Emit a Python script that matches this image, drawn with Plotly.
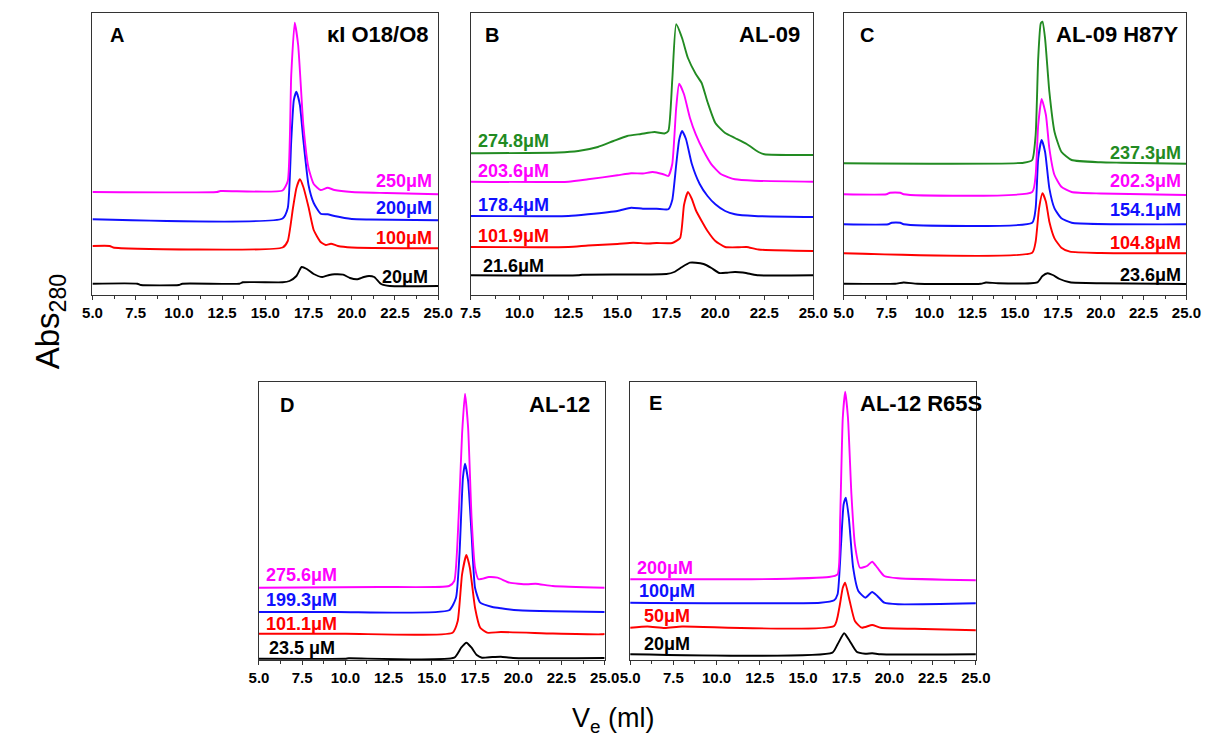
import plotly.graph_objects as go

W, H = 1216, 738

# ---------------- Panel A : kI O18/O8 ----------------
A_20_x = [5, 7.6, 7.8, 10, 10.2, 13.5, 13.7, 16.0, 16.4, 16.8, 17.1, 17.4, 17.8, 18.3, 18.7, 19.0, 19.5, 19.9, 20.3, 20.7, 21.0, 21.3, 21.7, 22.2, 25]
A_20_y = [11.3, 11.3, 10, 10, 11.3, 11.3, 12.7, 12.7, 14, 19, 28, 26, 21, 18, 20, 20.7, 20.3, 17, 15.7, 18, 19, 18, 11, 9, 9]
A_100_x = [5, 6.0, 6.2, 16.0, 16.3, 16.6, 16.8, 17.0, 17.2, 17.5, 17.8, 18.2, 18.5, 18.8, 19.2, 20, 25]
A_100_y = [49, 49, 47.5, 47.5, 54, 87, 107, 115.7, 108, 88, 65, 53, 50, 51.3, 49, 47.5, 46.7]
A_200_x = [5, 16.0, 16.3, 16.5, 16.65, 16.8, 17.0, 17.2, 17.5, 17.8, 18.2, 18.6, 19.0, 20, 21, 25]
A_200_y = [75.7, 76.5, 87, 154, 195, 203.3, 190, 155, 110, 92, 81.3, 80.7, 79, 76, 75.5, 74.7]
A_250_x = [5, 12.2, 12.4, 16.0, 16.3, 16.5, 16.7, 16.9, 17.2, 17.5, 17.8, 18.2, 18.6, 19.0, 20, 22, 25]
A_250_y = [103, 103, 104, 104.5, 114, 220, 272.3, 250, 170, 127, 111, 105, 107.3, 105, 103, 102, 100.7]

# ---------------- Panel B : AL-09 ----------------
B_216_x = [7.5, 13.0, 13.2, 17.5, 17.9, 18.3, 18.7, 19.0, 19.4, 19.8, 20.2, 20.6, 21.0, 21.4, 21.8, 22.2, 25]
B_216_y = [19.7, 19.7, 20.3, 21, 23, 28, 32.3, 32.3, 31, 27, 22, 22.3, 23, 22.5, 21, 19.7, 19.7]
B_1019_x = [7.5, 12.5, 13.5, 15.0, 15.8, 16.5, 17.0, 17.8, 18.2, 18.4, 18.6, 18.8, 19.0, 19.3, 19.6, 20.0, 20.5, 21.2, 21.6, 22.2, 25]
B_1019_y = [48, 48, 49.5, 51, 52.3, 51.5, 52, 52, 57, 90, 103, 96, 85, 74, 64, 54, 48, 47.7, 48, 45.5, 44]
B_1784_x = [7.5, 12.5, 13.5, 15.0, 15.7, 16.3, 17.0, 17.6, 17.8, 18.0, 18.15, 18.3, 18.5, 18.8, 19.2, 19.6, 20.0, 20.5, 21.0, 22.0, 25]
B_1784_y = [79, 79, 80.7, 84, 87.3, 86.3, 86.3, 85.7, 95, 130, 155, 164, 156, 131, 111, 99, 90.7, 84, 80.7, 79, 78]
B_2036_x = [7.5, 12.5, 13.5, 15.0, 15.7, 16.3, 16.8, 17.3, 17.6, 17.8, 18.0, 18.15, 18.4, 18.7, 19.0, 19.4, 19.8, 20.3, 21.0, 22.0, 25]
B_2036_y = [113.3, 113.3, 115.7, 119.7, 121.7, 121.5, 123, 121, 119, 131, 187, 211.3, 200.7, 177.3, 160.7, 144, 130.7, 120.7, 115.7, 114.3, 113.3]
B_2748_x = [7.5, 12.0, 13.0, 14.0, 14.8, 15.5, 16.2, 16.9, 17.4, 17.6, 17.8, 18.0, 18.3, 18.6, 19.0, 19.3, 19.6, 20.0, 20.5, 21.0, 21.6, 22.2, 22.5, 25]
B_2748_y = [141.7, 142.5, 144, 148, 154, 159, 161, 163, 161.5, 164, 215, 270.7, 257, 237, 221, 212, 193, 172, 162, 157, 151, 143, 140.7, 140]

# ---------------- Panel C : AL-09 H87Y ----------------
C_236_x = [5, 8.0, 8.5, 9.3, 13.0, 13.3, 14.0, 16.3, 16.6, 16.9, 17.2, 17.6, 18.2, 20.0, 25]
C_236_y = [11.3, 11.3, 12.5, 11.3, 11.3, 12.5, 11.7, 12.7, 19, 21.7, 20, 16, 12.7, 11.7, 11]
C_1048_x = [5, 16.0, 16.2, 16.4, 16.6, 16.8, 17.0, 17.3, 17.7, 18.2, 20, 25]
C_1048_y = [41.7, 42.3, 53.3, 86.7, 101.7, 93.3, 73.3, 56.7, 47.3, 43.3, 42, 41.7]
C_1541_x = [5, 7.6, 7.8, 8.3, 8.5, 16.0, 16.2, 16.35, 16.55, 16.75, 17.0, 17.3, 17.7, 18.3, 25]
C_1541_y = [70.7, 70.7, 72.3, 72.3, 70.7, 72.3, 86.7, 136.7, 155, 143.3, 106.7, 86.7, 76.7, 72.3, 70.7]
C_2023_x = [5, 7.5, 7.7, 8.3, 8.5, 16.0, 16.2, 16.35, 16.55, 16.8, 17.0, 17.3, 17.7, 18.3, 20, 25]
C_2023_y = [100.7, 100.7, 102.3, 102.3, 100.7, 103, 120, 170, 196, 180, 146.7, 120, 108.3, 103, 101.5, 100]
C_2373_x = [5, 15.5, 16.0, 16.2, 16.35, 16.5, 16.6, 16.75, 17.0, 17.3, 17.7, 18.3, 20, 21.2, 25]
C_2373_y = [131.7, 132.3, 135, 160, 236.7, 271.7, 273.3, 256.7, 203.3, 163.3, 143.3, 135, 132.7, 132.3, 131.3]

# ---------------- Panel D : AL-12 ----------------
D_235_x = [5, 10, 10.2, 16.3, 16.7, 17.0, 17.3, 17.6, 17.9, 18.5, 19.0, 19.7, 25]
D_235_y = [1.3, 1.3, 1.7, 2.3, 12.3, 17.3, 12.3, 5, 2.3, 3, 3.3, 2, 2]
D_1011_x = [5, 10, 16.2, 16.5, 16.75, 17.0, 17.2, 17.5, 17.8, 18.2, 19.0, 22, 24.8, 25]
D_1011_y = [26.3, 26.3, 27.3, 39, 85.7, 105, 92.3, 52.3, 32.3, 27.3, 28, 26.5, 25.7, 26]
D_1993_x = [5, 9.5, 16.0, 16.4, 16.6, 16.8, 16.92, 17.1, 17.3, 17.5, 17.8, 18.5, 19.0, 20, 22, 25]
D_1993_y = [48, 48, 49.7, 62.3, 105.7, 182.3, 196.3, 179, 125.7, 72.3, 57.3, 53, 51.7, 49.7, 48.7, 48]
D_2756_x = [5, 12, 16.0, 16.3, 16.55, 16.75, 16.92, 17.1, 17.3, 17.5, 17.7, 18.3, 18.8, 19.5, 20.5, 21.0, 22, 25]
D_2756_y = [72.3, 73, 74, 79, 142.3, 225.7, 266.3, 232.3, 142.3, 92.3, 80.7, 83, 82.3, 77.3, 75.7, 76.3, 74, 72.3]

# ---------------- Panel E : AL-12 R65S ----------------
E_20_x = [5, 16.7, 17.0, 17.38, 17.7, 18.1, 18.6, 19.0, 19.5, 25]
E_20_y = [5.7, 7.3, 15.7, 26.7, 19, 8.3, 6.3, 6.7, 5.7, 5.7]
E_50_x = [5, 6, 7, 8, 16.8, 17.1, 17.3, 17.44, 17.7, 18.0, 18.4, 19.0, 19.5, 22, 25]
E_50_y = [32.3, 33.5, 32, 33.5, 34, 52.3, 72.3, 77.3, 59, 39, 32.3, 35, 32.3, 31, 29.7]
E_100_x = [5, 16.0, 16.8, 17.0, 17.2, 17.35, 17.48, 17.65, 17.9, 18.2, 18.6, 19.0, 19.3, 19.7, 20.5, 25]
E_100_y = [57.3, 57.3, 59.7, 65.7, 115.7, 155.7, 162.3, 142.3, 92.3, 69, 62.3, 68, 64, 57.3, 55.7, 56.7]
E_200_x = [5, 12, 16.5, 17.0, 17.15, 17.3, 17.44, 17.6, 17.8, 18.0, 18.3, 18.7, 19.0, 19.3, 19.7, 20.5, 25]
E_200_y = [80.7, 80.7, 83, 85.7, 142.3, 242.3, 268.3, 242.3, 165.7, 115.7, 92.3, 94, 98.3, 92.3, 84, 81.7, 79.7]

# label texts
A_labels = ["250μM", "200μM", "100μM", "20μM"]
B_labels = ["274.8μM", "203.6μM", "178.4μM", "101.9μM", "21.6μM"]
C_labels = ["237.3μM", "202.3μM", "154.1μM", "104.8μM", "23.6μM"]
D_labels = ["275.6μM", "199.3μM", "101.1μM", "23.5 μM"]
E_labels = ["200μM", "100μM", "50μM", "20μM"]
titles = ["κI O18/O8", "AL-09", "AL-09 H87Y", "AL-12", "AL-12 R65S"]
letters = ["A", "B", "C", "D", "E"]

MAG, BLU, RED, BLK, GRN = "#FF00FF", "#1010FF", "#FF0000", "#000000", "#228B22"
FONT = "Arial, Liberation Sans, sans-serif"

fig = go.Figure()

def add(ax, x, y, color):
    fig.add_trace(go.Scatter(x=x, y=y, mode="lines", xaxis="x" + ax, yaxis="y" + ax,
                             line=dict(color=color, width=1.9, shape="spline", smoothing=0.5),
                             showlegend=False, hoverinfo="skip"))

add("", A_20_x, A_20_y, BLK); add("", A_100_x, A_100_y, RED)
add("", A_200_x, A_200_y, BLU); add("", A_250_x, A_250_y, MAG)
add("2", B_216_x, B_216_y, BLK); add("2", B_1019_x, B_1019_y, RED)
add("2", B_1784_x, B_1784_y, BLU); add("2", B_2036_x, B_2036_y, MAG); add("2", B_2748_x, B_2748_y, GRN)
add("3", C_236_x, C_236_y, BLK); add("3", C_1048_x, C_1048_y, RED)
add("3", C_1541_x, C_1541_y, BLU); add("3", C_2023_x, C_2023_y, MAG); add("3", C_2373_x, C_2373_y, GRN)
add("4", D_235_x, D_235_y, BLK); add("4", D_1011_x, D_1011_y, RED)
add("4", D_1993_x, D_1993_y, BLU); add("4", D_2756_x, D_2756_y, MAG)
add("5", E_20_x, E_20_y, BLK); add("5", E_50_x, E_50_y, RED)
add("5", E_100_x, E_100_y, BLU); add("5", E_200_x, E_200_y, MAG)

# panel geometry (pixels): left, right, top, bottom, xmin, ymax
panels = [
    (76, 429, 5, 287, 5.0, 282),
    (462, 812, 5, 287, 7.5, 282),
    (843, 1193, 5, 287, 5.0, 282),
    (246, 599, 374, 652, 5.0, 278),
    (625, 978, 374, 652, 5.0, 278),
]

layout = dict(width=W, height=H, margin=dict(l=0, r=0, t=0, b=0),
              plot_bgcolor="white", paper_bgcolor="white", showlegend=False,
              font=dict(family=FONT, color="black"))
for i, (l, r, t, b, xmin, ymax) in enumerate(panels):
    s = "" if i == 0 else str(i + 1)
    layout["xaxis" + s] = dict(domain=[l / W, r / W], range=[xmin - 0.001, 25.001], anchor="y" + s,
                               showgrid=False, zeroline=False, showline=True, mirror=True,
                               linecolor="#333333", linewidth=1.2, ticks="outside", ticklen=4,
                               tickcolor="#333333", tick0=5, dtick=2.5, tickformat=".1f",
                               tickfont=dict(family=FONT, size=15, color="black", weight="bold"),
                               minor=dict(ticks="outside", ticklen=3, tick0=5, dtick=1.25, tickcolor="#333333"),
                               fixedrange=True)
    layout["yaxis" + s] = dict(domain=[1 - b / H, 1 - t / H], range=[0, ymax], anchor="x" + s,
                               showgrid=False, zeroline=False, showline=True, mirror=True,
                               linecolor="#333333", linewidth=1.2, showticklabels=False, ticks="",
                               fixedrange=True)
fig.update_layout(**layout)

ann = []
def label(ax, x, y, text, color, anchor, size=18):
    ann.append(dict(xref="x" + ax, yref="y" + ax, x=x, y=y, text="<b>" + text + "</b>",
                    showarrow=False, xanchor=anchor, yanchor="middle",
                    font=dict(family=FONT, size=size, color=color)))

# Panel A
for txt, yy, c in zip(A_labels, [114, 87, 57, 18.3], [MAG, BLU, RED, BLK]):
    label("", 24.75 if c != BLK else 24.5, yy, txt, c, "right")
label("", 24.6, 260, titles[0], BLK, "right", 22)
label("", 5.9, 260, letters[0], BLK, "left", 20)
# Panel B
for txt, yy, c, xx in zip(B_labels, [154, 124, 90, 59, 29], [GRN, MAG, BLU, RED, BLK], [7.8, 7.8, 7.8, 7.8, 8.05]):
    label("2", xx, yy, txt, c, "left")
label("2", 24.4, 260, titles[1], BLK, "right", 22)
label("2", 8.15, 260, letters[1], BLK, "left", 20)
# Panel C
for txt, yy, c in zip(C_labels, [142, 114, 85, 52, 20], [GRN, MAG, BLU, RED, BLK]):
    label("3", 24.77, yy, txt, c, "right")
label("3", 24.7, 260, titles[2], BLK, "right", 22)
label("3", 5.86, 260, letters[2], BLK, "left", 20)
# Panel D
for txt, yy, c, xx in zip(D_labels, [84.7, 59.7, 36, 12], [MAG, BLU, RED, BLK], [5.27, 5.27, 5.27, 5.45]):
    label("4", xx, yy, txt, c, "left")
label("4", 24.26, 255.3, titles[3], BLK, "right", 22)
label("4", 6.08, 255.3, letters[3], BLK, "left", 20)
# Panel E
for txt, yy, c, xx in zip(E_labels, [92, 68.7, 43.7, 16], [MAG, BLU, RED, BLK], [5.28, 5.4, 5.7, 5.7]):
    label("5", xx, yy, txt, c, "left")
label("5", 18.2, 257, titles[4], BLK, "left", 22)
label("5", 5.96, 257, letters[4], BLK, "left", 20)

ann.append(dict(xref="paper", yref="paper", x=33 / W, y=1 - 314 / H, text="Abs<sub>280</sub>",
                textangle=-90, showarrow=False, xanchor="center", yanchor="middle",
                font=dict(family=FONT, size=33, color="black")))
ann.append(dict(xref="paper", yref="paper", x=608 / W, y=1 - 712 / H, text="V<sub>e</sub> (ml)",
                showarrow=False, xanchor="center", yanchor="middle",
                font=dict(family=FONT, size=27, color="black")))
fig.update_layout(annotations=ann)

fig.write_html("out.html")
